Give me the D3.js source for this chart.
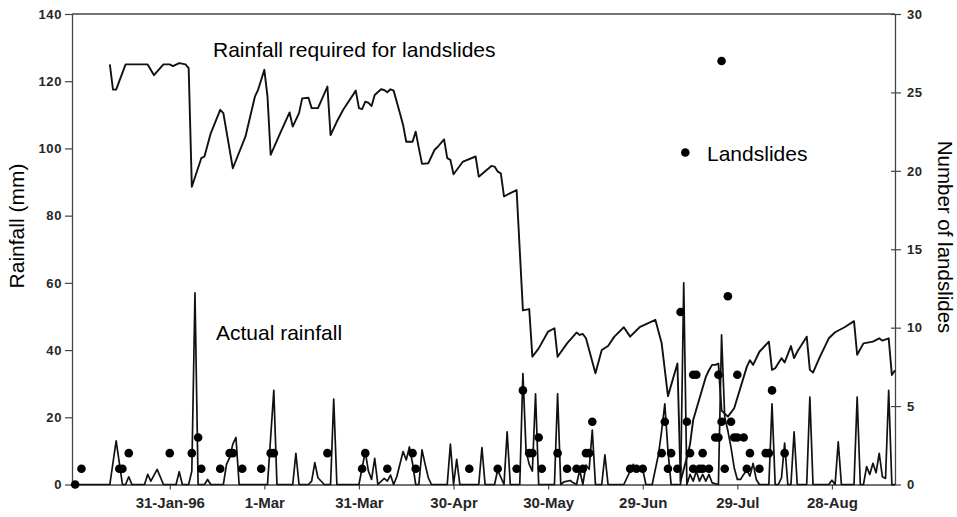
<!DOCTYPE html>
<html>
<head>
<meta charset="utf-8">
<script src="https://cdn.jsdelivr.net/npm/d3@7"></script>
<style>
  html, body { margin: 0; padding: 0; background: #fff; }
  svg { display: block; }
  text { font-family: "Liberation Sans", Arial, Helvetica, sans-serif; }
</style>
</head>
<body>
<svg id="chart" width="957" height="517"></svg>
<script>
// ---------------- DATA (day index: 0 = 1 Jan 1996) ----------------
const requiredDays = [11,12,13,16,23,25,28,30,31,33,35,36,37,40,41,43,46,47,50,54,57,58,60,61,62,65,68,69,71,72,74,75,77,80,81,83,85,89,90,91,92,93,94,95,97,98,99,100,101,103,104,105,107,108,109,110,112,114,115,117,118,119,120,123,127,128,132,133,134,135,136,138,140,142,144,145,147,150,152,153,156,159,160,161,162,165,167,169,171,174,176,179,184,186,188,191,192,194,195,196,200,201,202,203,204,205,207,209,213,214,215,217,220,221,222,224,225,227,228,229,232,233,234,236,239,241,244,247,248,250,253,255,256,258,259,260];
const requiredMm   = [125,117.5,117.5,125,125,121.8,125,125,124.5,125.4,125,123.9,88.6,97.1,97.6,104.5,111.5,110.5,94.1,103.5,115.4,117.4,123.4,115.4,98.1,104.5,110.7,106.5,110.5,114.9,115.1,112,112,118.4,104,108,111.5,117.2,112,111.7,113.9,113.6,112.6,115.9,117.6,117.4,116.7,117.6,117.2,110.5,107,102,102,105,100.1,95.4,95.6,99.6,100.5,102.7,97.1,96.6,92.3,96.1,97.6,91.6,94.8,94.6,93.1,92.6,85.7,86.7,87.6,51.8,52.2,38,40.5,45.5,46.5,38,42,45.2,44.5,44.8,43.5,33.1,40,41.2,44,46.8,44,46.8,49,42,26.3,36,1,8,12,19.2,32,34,35.6,35.6,36,22,20.2,22.7,35,37,35.6,39.5,42.5,34.1,34.6,37.6,36.3,41.2,37.6,39.5,44,34.1,33.3,37.6,43.5,45.3,46.8,48.6,38.6,42,42.5,43.5,42.8,43.5,32.6,34];

const actualDays = [0,11,13,15,16,17,18,22,23,24,26,28,32,33,34,36,37,38,39,41,42,43,47,48,49,50,51,52,61,62,63,64,69,70,71,74,75,76,77,79,81,82,83,90,92,93,94,95,96,98,99,100,101,102,104,105,106,107,108,109,110,111,112,113,118,119,120,121,122,128,129,130,133,134,136,137,138,141,142,143,144,145,146,147,152,153,154,155,157,158,159,160,161,162,163,164,165,167,168,169,174,177,178,180,181,183,185,186,187,188,189,192,193,194,195,196,197,198,199,200,201,202,204,205,206,207,208,209,210,211,212,213,214,215,216,217,220,221,222,223,224,225,226,227,228,229,232,233,234,239,240,241,242,243,247,248,249,250,251,252,253,254,255,256,257,258,259,260];
const actualMm   = [0,0,13,0,0,2.3,0,0,3,1,4.5,0,0,3.8,0,0,4,57,0,0,1.5,0,0,6,8,12,14,0,0,14,28,0,0,9.3,0,0,1,6.5,2,0,0,25.4,0,0,9.8,4,1.5,7.8,0,1.8,1,2.8,0,2.3,9.8,7.3,11.2,6.3,0,0,10.3,6,2,0,0,12,0,7.5,0,0,11,0,0,4.3,0,15.7,0,0,33,10,6,4,27,0,0,27,0,0.8,1.2,0.5,0,4.3,0,5.8,4.5,16.2,0,0,8.8,0,0,6,4,4.5,0,0,9,16,24,10,0,0,60,0,3,1,4,1,3,1,3,0.5,0,44.5,20,16,11,5,1.5,1.5,3,4.3,2.5,6.3,1.5,0,0,24,0,0,2,12.3,0,0,15.7,0,0,26,0,0,1.3,0,12.7,0,0,26,0,0,5.3,3,6.3,3.5,9.3,2.3,1.8,28,0,0];

const slideDays   = [0,2,14,15,17,30,37,39,40,46,49,50,53,59,62,63,80,91,92,99,107,108,125,134,140,142,144,145,147,148,153,156,159,161,162,163,164,176,178,180,186,187,188,189,191,192,194,195,196,197,196,198,199,201,199,203,204,204,205,205,206,207,208,209,210,212,210,213,214,217,219,220,221,225];
const slideCounts = [0,1,1,1,2,2,2,3,1,1,2,2,1,1,2,2,2,1,2,1,2,1,1,1,1,6,2,2,3,1,2,1,1,1,2,2,4,1,1,1,2,4,1,2,1,11,4,2,7,7,1,1,1,1,2,3,3,7,4,27,1,12,4,3,3,3,7,1,2,1,2,2,6,2];

const xTickDates  = ["1996-01-31","1996-03-01","1996-03-31","1996-04-30","1996-05-30","1996-06-29","1996-07-29","1996-08-28"];
const xTickLabels = ["31-Jan-96","1-Mar","31-Mar","30-Apr","30-May","29-Jun","29-Jul","28-Aug"];
const yLeftTicks  = [0,20,40,60,80,100,120,140];
const yRightTicks = [0,5,10,15,20,25,30];

// ---------------- CHART ----------------
const start = Date.UTC(1996, 0, 1);
const dayDate = d => new Date(start + d * 86400000);

const L = 72, R = 895, T = 14, B = 484.5;
const svg = d3.select("#chart");

const x  = d3.scaleUtc().domain([dayDate(-1), dayDate(260)]).range([L, R]);
const yL = d3.scaleLinear().domain([0, 140]).range([B, T]);
const yR = d3.scaleLinear().domain([0, 30]).range([B, T]);

const required = requiredDays.map((d, i) => ({ date: dayDate(d), v: requiredMm[i] }));
const actual   = actualDays.map((d, i) => ({ date: dayDate(d), v: actualMm[i] }));
const slides   = slideDays.map((d, i) => ({ date: dayDate(d), n: slideCounts[i] }));

const line = d3.line().x(d => x(d.date)).y(d => yL(d.v));

// frame top line
svg.append("line").attr("x1", L).attr("x2", R).attr("y1", T).attr("y2", T)
  .attr("stroke", "#444").attr("stroke-width", 1.3);

// axes
const axL = svg.append("g").attr("transform", `translate(${L},0)`)
  .call(d3.axisLeft(yL).tickValues(yLeftTicks).tickSizeInner(7).tickSizeOuter(0).tickPadding(3));
const axR = svg.append("g").attr("transform", `translate(${R},0)`)
  .call(d3.axisRight(yR).tickValues(yRightTicks).tickSizeInner(6).tickSizeOuter(0).tickPadding(6));
axR.selectAll(".tick line").attr("x1", -4);
const axB = svg.append("g").attr("transform", `translate(0,${B})`)
  .call(d3.axisBottom(x).tickValues(xTickDates.map(s => new Date(s + "T00:00:00Z")))
    .tickFormat((d, i) => xTickLabels[i]).tickSizeInner(5).tickSizeOuter(0).tickPadding(8));

[axL, axR, axB].forEach(g => {
  g.select(".domain").attr("stroke", "#444").attr("stroke-width", 1.3);
  g.selectAll(".tick line").attr("stroke", "#444").attr("stroke-width", 1.2);
  g.selectAll(".tick text").attr("fill", "#262626").attr("font-weight", "bold")
    .attr("font-family", "'Liberation Sans', Arial, sans-serif");
});
axL.selectAll(".tick text").attr("font-size", 13).attr("letter-spacing", "0.6px");
axR.selectAll(".tick text").attr("font-size", 13).attr("letter-spacing", "0.6px");
axB.selectAll(".tick text").attr("font-size", 15);

// lines
svg.append("path").datum(actual).attr("d", line)
  .attr("fill", "none").attr("stroke", "#111").attr("stroke-width", 1.7)
  .attr("stroke-linejoin", "round");
svg.append("path").datum(required).attr("d", line)
  .attr("fill", "none").attr("stroke", "#111").attr("stroke-width", 1.9)
  .attr("stroke-linejoin", "round");

// landslide dots
svg.append("g").selectAll("circle").data(slides).join("circle")
  .attr("cx", d => x(d.date)).attr("cy", d => yR(d.n)).attr("r", 4.3)
  .attr("fill", "#000");

// annotations
svg.append("text").attr("x", 213).attr("y", 56.5).attr("font-size", 21)
  .attr("fill", "#000").text("Rainfall required for landslides");
svg.append("text").attr("x", 216).attr("y", 339.5).attr("font-size", 21)
  .attr("fill", "#000").text("Actual rainfall");
svg.append("circle").attr("cx", 685.3).attr("cy", 152.5).attr("r", 4.3).attr("fill", "#000");
svg.append("text").attr("x", 707).attr("y", 160.5).attr("font-size", 21)
  .attr("fill", "#000").text("Landslides");

// axis titles
svg.append("text").attr("transform", "translate(24,226) rotate(-90)")
  .attr("text-anchor", "middle").attr("font-size", 21).attr("fill", "#000")
  .text("Rainfall (mm)");
svg.append("text").attr("transform", "translate(938,237) rotate(90)")
  .attr("text-anchor", "middle").attr("font-size", 20.5).attr("fill", "#000")
  .text("Number of landslides");
</script>
</body>
</html>
